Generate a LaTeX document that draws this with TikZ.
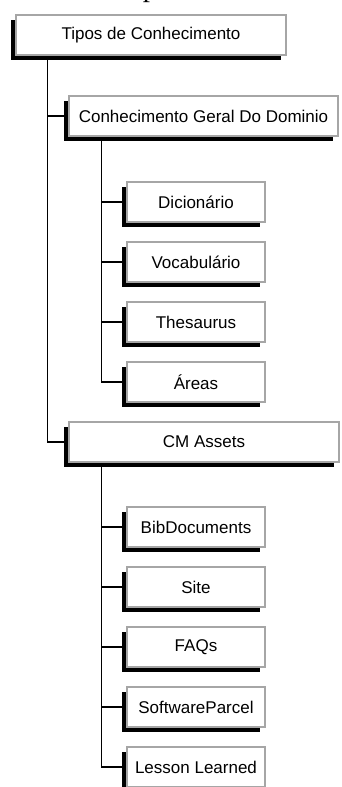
\documentclass[tikz,border=0pt]{standalone}
\usepackage{fontspec}
\newfontfamily\arialfont{Liberation Sans}
\newfontfamily\timesfont{Liberation Serif}
\usetikzlibrary{positioning, shadows}

\begin{document}
\begin{tikzpicture}[x=1pt, y=1pt,
  box/.style={rectangle, draw=gray!70, line width=2.4pt, fill=white,
    general shadow={fill=black, shadow xshift=-5pt, shadow yshift=-5pt},
    minimum width=270pt, minimum height=40pt,
    font=\arialfont\fontsize{17}{20}\selectfont},
  leaf/.style={box, minimum width=138pt},
  link/.style={line width=1.3pt},
  caption/.style={font=\timesfont\fontsize{29}{34}\selectfont, inner sep=0pt},
  node distance=17.6pt
]
\useasboundingbox (0,0) rectangle (341,-787);
\clip (0,0) rectangle (341,-787);

% Caption, cut by the top edge
\node[caption, anchor=base east] (fignum) at (80,4) {gura 3 --};
\node[caption, anchor=base west] (figtitle) at (118,4) {Tipos de conhecimento};

% Nodes
\node[box] (tipos) at (151,-35) {Tipos de Conhecimento};
\node[box, minimum width=269pt] (geral) at (203.5,-116) {Conhecimento Geral Do Dominio};
\node[leaf] (dic) at (196,-202) {Dicionário};
\node[leaf, below=of dic] (voc) {Vocabulário};
\node[leaf, below=of voc] (thes) {Thesaurus};
\node[leaf, below=of thes] (areas) {Áreas};

\node[box] (cm) at (204,-442) {CM Assets};
\node[leaf] (bib) at (196,-527) {BibDocuments};
\node[leaf, below=of bib] (site) {Site};
\node[leaf, below=of site] (faqs) {FAQs};
\node[leaf, below=of faqs] (soft) {SoftwareParcel};
\node[leaf, below=of soft] (lesson) {Lesson Learned};

% Tree lines
\draw[link] ([xshift=33pt]tipos.south west) |- (geral.west);
\draw[link] ([xshift=33pt]tipos.south west) |- (cm.west);
\foreach \c in {dic, voc, thes, areas}
  \draw[link] ([xshift=34pt]geral.south west) |- (\c.west);
\foreach \c in {bib, site, faqs, soft, lesson}
  \draw[link] ([xshift=34pt]cm.south west) |- (\c.west);

\end{tikzpicture}
\end{document}
